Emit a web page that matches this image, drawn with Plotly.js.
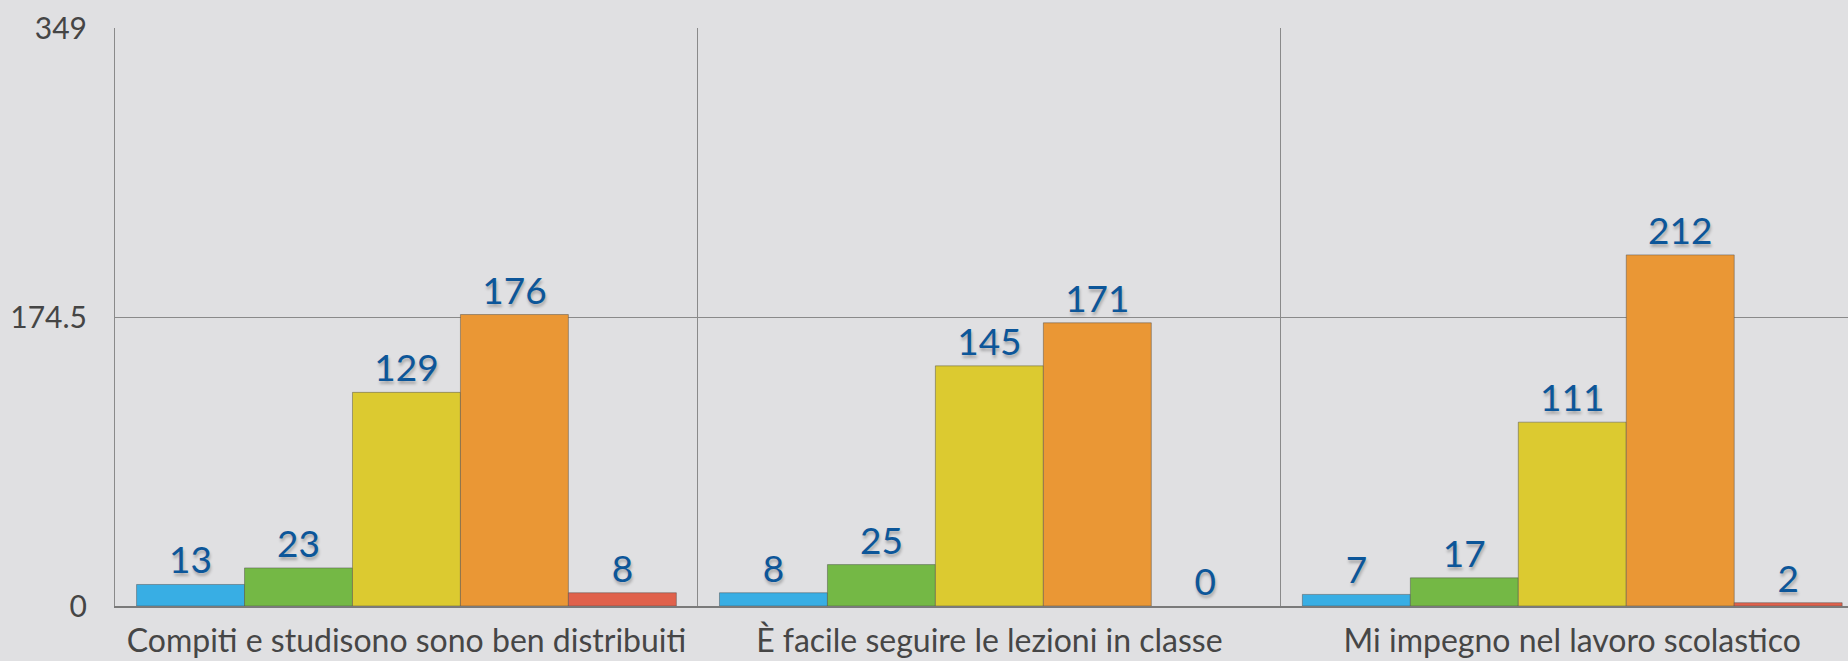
<!DOCTYPE html>
<html>
<head>
<meta charset="utf-8">
<script src="https://cdn.plot.ly/plotly-3.0.1.min.js"></script>
<style>
  html, body { margin: 0; padding: 0; background: #e0e0e2; }
  #chart { width: 1848px; height: 661px; }
</style>
</head>
<body>
<div id="chart"></div>
<script>
// ---- data ----
var categories = [
  "Compiti e studisono sono ben distribuiti",
  "È facile seguire le lezioni in classe",
  "Mi impegno nel lavoro scolastico"
];
var seriesNames = ["1", "2", "3", "4", "5"];
var values1 = [13, 8, 7];
var values2 = [23, 25, 17];
var values3 = [129, 145, 111];
var values4 = [176, 171, 212];
var values5 = [8, 0, 2];
var yTickVals = [0, 174.5, 349];
var yTickText = ["0", "174.5", "349"];

// ---- styles ----
var colors = ["#38aee4", "#74b845", "#dcca30", "#ea9735", "#e0614b"];
var allValues = [values1, values2, values3, values4, values5];
var FONT = "Lato, 'Open Sans', sans-serif";

var traces = allValues.map(function (vals, i) {
  return {
    type: "bar",
    name: seriesNames[i],
    x: categories,
    y: vals,
    text: vals.map(String),
    textposition: "outside",
    cliponaxis: false,
    textfont: { family: FONT, size: 37, color: "#0c5699",
                shadow: "1px 3px 3px rgba(0,0,0,0.25)" },
    marker: {
      color: colors[i],
      line: { color: "rgba(70,70,70,0.45)", width: vals.map(function (v) { return v > 0 ? 1 : 0; }) }
    },
    hoverinfo: "x+y"
  };
});

var layout = {
  width: 1848,
  height: 661,
  paper_bgcolor: "#e0e0e2",
  plot_bgcolor: "rgba(0,0,0,0)",
  showlegend: false,
  barmode: "group",
  bargap: 0.074,
  bargroupgap: 0,
  margin: { l: 115, r: 0, t: 28, b: 55 },
  font: { family: FONT, color: "#454545" },
  xaxis: {
    type: "category",
    range: [-0.5, 2.473],
    tickson: "boundaries",
    showgrid: true,
    gridcolor: "#8a8a8a",
    gridwidth: 1,
    ticks: "",
    showline: true,
    linecolor: "#7a7a7a",
    linewidth: 2,
    tickfont: { family: FONT, size: 32, color: "#464646" },
    ticklabelstandoff: 6
  },
  yaxis: {
    range: [0, 349],
    tickvals: yTickVals,
    ticktext: yTickText,
    showgrid: true,
    gridcolor: "#8a8a8a",
    gridwidth: 1,
    zeroline: false,
    showline: true,
    linecolor: "#8a8a8a",
    linewidth: 1,
    ticks: "",
    tickfont: { family: FONT, size: 30, color: "#454545" },
    ticklabelstandoff: 21
  }
};

Plotly.newPlot("chart", traces, layout, { displayModeBar: false, staticPlot: true });
</script>
</body>
</html>
